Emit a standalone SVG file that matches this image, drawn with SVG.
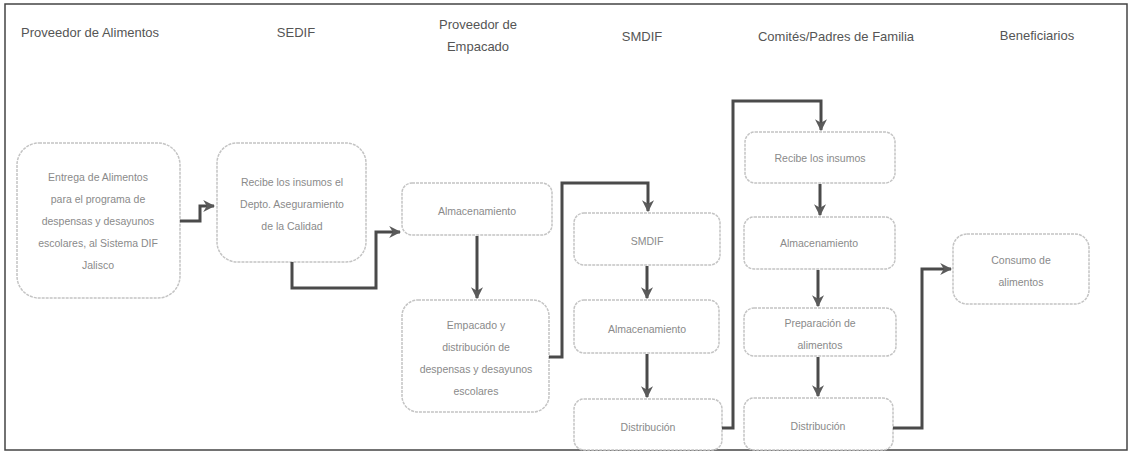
<svg xmlns="http://www.w3.org/2000/svg" width="1130" height="454" viewBox="0 0 1130 454">
<defs>
<style>
.hdr{font-family:"Liberation Sans",Arial,sans-serif;font-size:13px;fill:#555;text-anchor:middle}
.box{fill:#fff;stroke:#c4c4c4;stroke-width:1.5;stroke-dasharray:3 1}
.txt{font-family:"Liberation Sans",Arial,sans-serif;font-size:10.5px;fill:#8a8a8a;text-anchor:middle}
.con{fill:none;stroke:#4a4a4a;stroke-width:3}
</style>
<marker id="arr" viewBox="0 0 10 10" refX="9" refY="5" markerWidth="4" markerHeight="4" orient="auto" markerUnits="strokeWidth">
<path d="M0,0 L10,5 L0,10 L3,5 Z" fill="#5a5a5a"/>
</marker>
</defs>
<rect x="0" y="0" width="1130" height="454" fill="#fff"/>
<rect x="5" y="4" width="1122" height="446" fill="none" stroke="#444" stroke-width="1.5"/>
<g id="headers">
<text class="hdr" x="90" y="37">Proveedor de Alimentos</text>
<text class="hdr" x="296" y="37">SEDIF</text>
<text class="hdr" x="478" y="29">Proveedor de</text>
<text class="hdr" x="478" y="51">Empacado</text>
<text class="hdr" x="642" y="41">SMDIF</text>
<text class="hdr" x="836" y="41">Comités/Padres de Familia</text>
<text class="hdr" x="1037" y="40">Beneficiarios</text>
</g>
<g id="n1"><rect class="box" x="17" y="143" width="163" height="155" rx="22"/>
<text class="txt" x="98" y="181">Entrega de  Alimentos</text>
<text class="txt" x="98" y="203">para el programa de</text>
<text class="txt" x="98" y="225">despensas y desayunos</text>
<text class="txt" x="98" y="247">escolares, al Sistema DIF</text>
<text class="txt" x="98" y="269">Jalisco</text></g>
<g id="n2"><rect class="box" x="217" y="143" width="149" height="119" rx="20"/>
<text class="txt" x="292" y="186">Recibe los insumos el</text>
<text class="txt" x="292" y="208">Depto. Aseguramiento</text>
<text class="txt" x="292" y="230">de la Calidad</text></g>
<g id="n3"><rect class="box" x="402" y="183" width="150" height="52" rx="10"/>
<text class="txt" x="477" y="215">Almacenamiento</text></g>
<g id="n4"><rect class="box" x="402" y="300" width="147" height="112" rx="16"/>
<text class="txt" x="476" y="329">Empacado  y</text>
<text class="txt" x="476" y="351">distribución de</text>
<text class="txt" x="476" y="373">despensas y desayunos</text>
<text class="txt" x="476" y="395">escolares</text></g>
<g id="n5"><rect class="box" x="574" y="213" width="146" height="52" rx="10"/>
<text class="txt" x="647" y="245">SMDIF</text></g>
<g id="n6"><rect class="box" x="574" y="300" width="145" height="53" rx="10"/>
<text class="txt" x="647" y="333">Almacenamiento</text></g>
<g id="n7"><rect class="box" x="574" y="399" width="148" height="51" rx="10"/>
<text class="txt" x="648" y="431">Distribución</text></g>
<g id="n8"><rect class="box" x="745" y="132" width="150" height="51" rx="10"/>
<text class="txt" x="820" y="162">Recibe los insumos</text></g>
<g id="n9"><rect class="box" x="744" y="217" width="151" height="52" rx="10"/>
<text class="txt" x="819" y="247">Almacenamiento</text></g>
<g id="n10"><rect class="box" x="744" y="308" width="152" height="48" rx="10"/>
<text class="txt" x="820" y="327">Preparación de</text>
<text class="txt" x="820" y="349">alimentos</text></g>
<g id="n11"><rect class="box" x="744" y="398" width="149" height="52" rx="10"/>
<text class="txt" x="818" y="430">Distribución</text></g>
<g id="n12"><rect class="box" x="953" y="234" width="136" height="70" rx="14"/>
<text class="txt" x="1021" y="264">Consumo de</text>
<text class="txt" x="1021" y="286">alimentos</text></g>
<g id="connectors">
<path class="con" d="M180,221 H200 V206 H214" marker-end="url(#arr)"/>
<path class="con" d="M292,262 V288 H376 V232 H400" marker-end="url(#arr)"/>
<path class="con" d="M477,236 V298" marker-end="url(#arr)"/>
<path class="con" d="M549,357 H562 V183 H648 V211" marker-end="url(#arr)"/>
<path class="con" d="M647,266 V298" marker-end="url(#arr)"/>
<path class="con" d="M647,354 V397" marker-end="url(#arr)"/>
<path class="con" d="M722,428 H733 V101 H821 V130" marker-end="url(#arr)"/>
<path class="con" d="M820,184 V215" marker-end="url(#arr)"/>
<path class="con" d="M818,270 V306" marker-end="url(#arr)"/>
<path class="con" d="M818,357 V396" marker-end="url(#arr)"/>
<path class="con" d="M893,428 H922 V269 H951" marker-end="url(#arr)"/>
</g>
</svg>
